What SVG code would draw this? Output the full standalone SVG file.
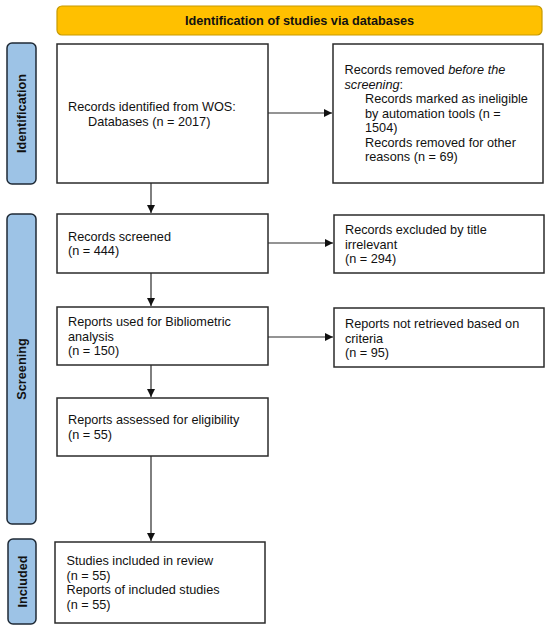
<svg xmlns="http://www.w3.org/2000/svg" width="550" height="629" viewBox="0 0 550 629">
<style>
  .box { fill: #ffffff; stroke: #2b2b2b; stroke-width: 1.5; }
  .phase { fill: #9DC3E6; stroke: #1f2a36; stroke-width: 1.5; }
  .banner { fill: #FFC000; stroke: #C79A00; stroke-width: 1.2; }
  .t { font-family: "Liberation Sans", Arial, sans-serif; font-size: 12.7px; fill: #111; }
  .b { font-family: "Liberation Sans", Arial, sans-serif; font-size: 12.7px; font-weight: bold; fill: #111; }
  .conn { stroke: #2b2b2b; stroke-width: 1.2; fill: none; marker-end: url(#arrow); }
</style>
<defs>
  <marker id="arrow" viewBox="0 0 10 10" refX="10" refY="5" markerWidth="8" markerHeight="8" markerUnits="userSpaceOnUse" orient="auto">
    <path d="M0,0 L10,5 L0,10 z" fill="#111"/>
  </marker>
</defs>
<rect width="550" height="629" fill="#ffffff"/>

<g id="banner">
  <rect class="banner" x="57" y="6" width="485" height="29" rx="5"/>
  <text class="b" x="299.5" y="25" text-anchor="middle">Identification of studies via databases</text>
</g>

<g id="phase-identification">
  <rect class="phase" x="7" y="43" width="29" height="141" rx="5"/>
  <text class="b" transform="translate(26,113.5) rotate(-90)" text-anchor="middle">Identification</text>
</g>
<g id="phase-screening">
  <rect class="phase" x="7" y="214" width="29" height="310" rx="5"/>
  <text class="b" transform="translate(26,369) rotate(-90)" text-anchor="middle">Screening</text>
</g>
<g id="phase-included">
  <rect class="phase" x="8" y="539" width="28" height="85" rx="5"/>
  <text class="b" transform="translate(26.5,581.5) rotate(-90)" text-anchor="middle">Included</text>
</g>

<g id="records-identified">
  <rect class="box" x="57" y="44" width="211" height="139"/>
  <text class="t" x="68" y="111">Records identified from WOS:</text>
  <text class="t" x="88" y="125.5">Databases (n = 2017)</text>
</g>

<g id="records-removed">
  <rect class="box" x="333" y="44" width="210" height="139"/>
  <text class="t" x="344.5" y="74">Records removed <tspan font-style="italic">before the</tspan></text>
  <text class="t" x="344.5" y="88.5"><tspan font-style="italic">screening</tspan>:</text>
  <text class="t" x="365" y="103">Records marked as ineligible</text>
  <text class="t" x="365" y="117.5">by automation tools (n =</text>
  <text class="t" x="365" y="132">1504)</text>
  <text class="t" x="365" y="146.5">Records removed for other</text>
  <text class="t" x="365" y="161">reasons (n = 69)</text>
</g>

<g id="records-screened">
  <rect class="box" x="57" y="214" width="211" height="59"/>
  <text class="t" x="68" y="240.5">Records screened</text>
  <text class="t" x="68" y="255">(n = 444)</text>
</g>

<g id="records-excluded">
  <rect class="box" x="334" y="215" width="210" height="58"/>
  <text class="t" x="345" y="234">Records excluded by title</text>
  <text class="t" x="345" y="248.5">irrelevant</text>
  <text class="t" x="345" y="263">(n = 294)</text>
</g>

<g id="reports-bibliometric">
  <rect class="box" x="57" y="307" width="211" height="58"/>
  <text class="t" x="68" y="326">Reports used for Bibliometric</text>
  <text class="t" x="68" y="340.5">analysis</text>
  <text class="t" x="68" y="355">(n = 150)</text>
</g>

<g id="reports-not-retrieved">
  <rect class="box" x="334" y="308" width="210" height="59"/>
  <text class="t" x="345" y="328">Reports not retrieved based on</text>
  <text class="t" x="345" y="342.5">criteria</text>
  <text class="t" x="345" y="357">(n = 95)</text>
</g>

<g id="reports-assessed">
  <rect class="box" x="57" y="398" width="211" height="58"/>
  <text class="t" x="68" y="424">Reports assessed for eligibility</text>
  <text class="t" x="68" y="438.5">(n = 55)</text>
</g>

<g id="studies-included">
  <rect class="box" x="55" y="542" width="210" height="81"/>
  <text class="t" x="66.5" y="565">Studies included in review</text>
  <text class="t" x="66.5" y="579.5">(n = 55)</text>
  <text class="t" x="66.5" y="594">Reports of included studies</text>
  <text class="t" x="66.5" y="608.5">(n = 55)</text>
</g>

<g id="connectors">
  <line class="conn" x1="268" y1="113" x2="332" y2="113"/>
  <line class="conn" x1="151" y1="183" x2="151" y2="213"/>
  <line class="conn" x1="268" y1="243" x2="333" y2="243"/>
  <line class="conn" x1="151" y1="273" x2="151" y2="306"/>
  <line class="conn" x1="268" y1="337" x2="333" y2="337"/>
  <line class="conn" x1="151" y1="365" x2="151" y2="397"/>
  <line class="conn" x1="151" y1="456" x2="151" y2="541"/>
</g>
</svg>
